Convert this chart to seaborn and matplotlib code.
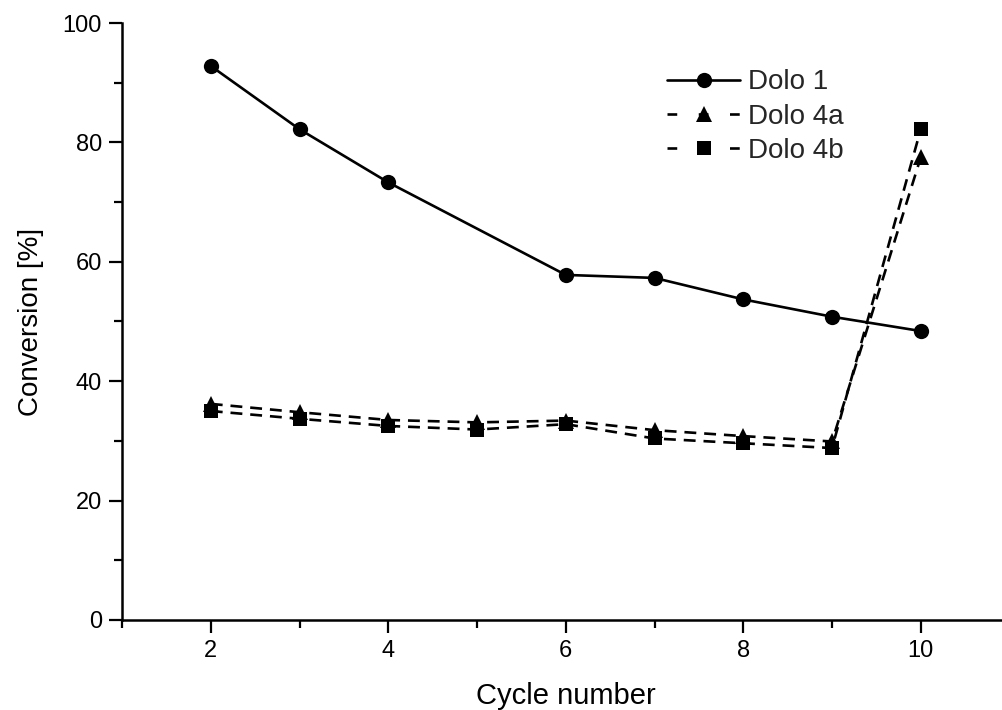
import matplotlib
matplotlib.use("Agg")
import matplotlib.pyplot as plt
from matplotlib.ticker import MultipleLocator
import pandas as pd
import seaborn as sns

# Conversion per cycle for each dolomite sample
cycles_dolo1 = [2, 3, 4, 6, 7, 8, 9, 10]
conv_dolo1 = [92.8, 82.2, 73.3, 57.8, 57.3, 53.7, 50.8, 48.4]

cycles_dolo4 = [2, 3, 4, 5, 6, 7, 8, 9, 10]
conv_dolo4a = [36.2, 34.8, 33.5, 33.1, 33.4, 31.8, 30.8, 29.9, 77.5]
conv_dolo4b = [35.0, 33.7, 32.5, 31.9, 32.8, 30.4, 29.6, 28.8, 82.2]

series_names = ["Dolo 1", "Dolo 4a", "Dolo 4b"]

df = pd.concat([
    pd.DataFrame({"cycle": cycles_dolo1, "conv": conv_dolo1, "sample": series_names[0]}),
    pd.DataFrame({"cycle": cycles_dolo4, "conv": conv_dolo4a, "sample": series_names[1]}),
    pd.DataFrame({"cycle": cycles_dolo4, "conv": conv_dolo4b, "sample": series_names[2]}),
], ignore_index=True)

sns.set_theme(style="ticks")
plt.rcParams["font.family"] = ["Liberation Sans", "DejaVu Sans"]

fig = plt.figure(figsize=(10.02, 7.10), dpi=100)
ax = fig.add_axes([0.1218, 0.1268, 0.8857, 0.8408])

LW = 1.9
marker_of = {"Dolo 1": ("o", 11), "Dolo 4a": ("^", 11), "Dolo 4b": ("s", 9.5)}

for name in series_names:
    sub = df[df["sample"] == name]
    mk, ms = marker_of[name]
    sns.lineplot(data=sub, x="cycle", y="conv", ax=ax, color="black",
                 linewidth=LW, marker=mk, markersize=ms, markeredgewidth=0,
                 label=name)
    if name != "Dolo 1":
        ax.get_lines()[-1].set_dashes((4.5, 3))

ax.set_xlim(1, 11)
ax.set_ylim(0, 100)
ax.xaxis.set_minor_locator(MultipleLocator(1))
ax.yaxis.set_major_locator(MultipleLocator(20))
ax.yaxis.set_minor_locator(MultipleLocator(10))
ax.set_xticks([2, 4, 6, 8, 10])
ax.set_xticklabels(["2", "4", "6", "8", "10"])

for side in ["top", "right"]:
    ax.spines[side].set_visible(False)
for side in ["left", "bottom"]:
    ax.spines[side].set_linewidth(1.8)
    ax.spines[side].set_color("black")

ax.tick_params(which="major", direction="out", length=9.5, width=1.6,
               color="black", labelsize=17, labelcolor="black", pad=5)
ax.tick_params(which="minor", direction="out", length=5.5, width=1.6, color="black")

ax.set_xlabel("Cycle number", fontsize=21, color="black", labelpad=14)
ax.set_ylabel("Conversion [%]", fontsize=20, color="black", labelpad=13)

handle_len = 2.6
legend_size = 20
leg = ax.legend(loc="upper left", bbox_to_anchor=(0.655, 0.918),
                bbox_transform=fig.transFigure, frameon=False,
                fontsize=legend_size, handlelength=handle_len, handletextpad=0.3,
                labelspacing=0.3, borderaxespad=0)
# Dashed handles: a short dash at each end plus one hidden under the marker
span_pt = handle_len * legend_size
dash_pt = 7.0
gap_pt = (span_pt - 3 * dash_pt) / 2
for handle in leg.get_lines()[1:]:
    handle.set_dashes((dash_pt / LW, gap_pt / LW))

fig.savefig("out.png", dpi=100)
